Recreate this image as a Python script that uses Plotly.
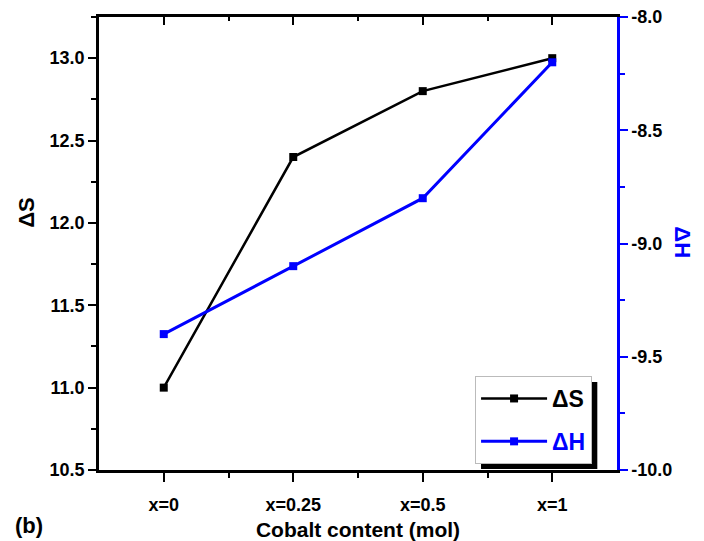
import plotly.graph_objects as go

categories = ["x=0", "x=0.25", "x=0.5", "x=1"]
delta_s = [11.0, 12.4, 12.8, 13.0]
delta_h = [-9.4, -9.1, -8.8, -8.2]
left_ticks = [10.5, 11.0, 11.5, 12.0, 12.5, 13.0]
right_ticks = [-10.0, -9.5, -9.0, -8.5, -8.0]

xpos = list(range(len(categories)))
BLUE = "#0000ff"
FONT = "Liberation Sans, Arial, sans-serif"

fig = go.Figure()
fig.add_trace(go.Scatter(
    x=xpos, y=delta_s, mode="lines+markers", name="ΔS",
    line=dict(color="black", width=2.5),
    marker=dict(symbol="square", size=8, color="black"),
    legendgroup="s", yaxis="y"))
fig.add_trace(go.Scatter(
    x=xpos, y=delta_h, mode="lines+markers",
    name=f"<span style='color:{BLUE}'>ΔH</span>",
    line=dict(color=BLUE, width=3),
    marker=dict(symbol="square", size=8, color=BLUE),
    legendgroup="h", yaxis="y2"))

# invisible trace for top axis ticks
fig.add_trace(go.Scatter(x=xpos, y=delta_s, xaxis="x2", yaxis="y",
                         mode="markers", marker=dict(opacity=0),
                         showlegend=False, hoverinfo="skip"))

tickfont = dict(family=FONT, size=18, color="black", weight="bold")

fig.update_layout(
    width=704, height=541,
    margin=dict(l=99, r=87, t=17, b=71),
    paper_bgcolor="white", plot_bgcolor="white",
    font=dict(family=FONT, weight="bold", color="black"),
    showlegend=True,
    xaxis=dict(
        range=[-0.5, 3.5], tickmode="array", tickvals=xpos, ticktext=categories,
        ticks="outside", ticklen=9, tickwidth=2, tickcolor="black",
        showline=True, linecolor="black", linewidth=2.5,
        showgrid=False, zeroline=False, tickfont=tickfont,
        ticklabelstandoff=8, automargin=False,
        minor=dict(tickmode="array", tickvals=[0.5, 1.5, 2.5], ticks="outside",
                   ticklen=5, tickwidth=2, tickcolor="black"),
        title=dict(text="Cobalt content (mol)",
                   font=dict(family=FONT, size=21, color="black", weight="bold"),
                   standoff=8),
    ),
    xaxis2=dict(
        overlaying="x", side="top", range=[-0.5, 3.5], tickmode="array",
        tickvals=xpos, ticktext=["" for _ in categories],
        ticks="inside", ticklen=8, tickwidth=2, tickcolor="black",
        showline=True, linecolor="black", linewidth=2.5,
        showgrid=False, zeroline=False, automargin=False,
        minor=dict(tickmode="array", tickvals=[0.5, 1.5, 2.5], ticks="inside",
                   ticklen=4, tickwidth=2, tickcolor="black"),
    ),
    yaxis=dict(
        range=[10.5, 13.25], tickmode="array", tickvals=left_ticks,
        ticktext=[f"{v:.1f}" for v in left_ticks],
        ticks="outside", ticklen=8, tickwidth=2, tickcolor="black",
        showline=True, linecolor="black", linewidth=2.5,
        showgrid=False, zeroline=False, tickfont=tickfont, automargin=False,
        minor=dict(dtick=0.25, tick0=10.5, ticks="outside", ticklen=5,
                   tickwidth=2, tickcolor="black"),
    ),
    yaxis2=dict(
        range=[-10.0, -8.0], overlaying="y", side="right", anchor="x",
        tickmode="array", tickvals=right_ticks,
        ticktext=[f"{v:.1f}" for v in right_ticks],
        ticks="outside", ticklen=8, tickwidth=2, tickcolor=BLUE,
        showline=True, linecolor=BLUE, linewidth=2.5,
        showgrid=False, zeroline=False, tickfont=tickfont, automargin=False,
        minor=dict(dtick=0.25, tick0=-10.0, ticks="outside", ticklen=5,
                   tickwidth=2, tickcolor=BLUE),
    ),
    legend=dict(
        x=0.726, y=0.2075, xanchor="left", yanchor="top",
        bgcolor="white", bordercolor="#bbbbbb", borderwidth=1,
        font=dict(family=FONT, size=23, color="black", weight="bold"),
        itemwidth=66, tracegroupgap=10,
    ),
    shapes=[dict(type="rect", xref="paper", yref="paper",
                 x0=0.7375, x1=0.962, y0=0.002, y1=0.194,
                 fillcolor="black", line=dict(width=0), layer="above")],
    annotations=[
        dict(text="ΔS", xref="paper", yref="paper", x=-0.139, y=0.57,
             xanchor="center", yanchor="middle",
             textangle=-90, showarrow=False,
             font=dict(family=FONT, size=22, color="black", weight="bold")),
        dict(text="ΔH", xref="paper", yref="paper", x=1.127, y=0.503,
             xanchor="center", yanchor="middle",
             textangle=90, showarrow=False,
             font=dict(family=FONT, size=22, color=BLUE, weight="bold")),
        dict(text="(b)", xref="paper", yref="paper", x=-0.135, y=-0.1545,
             xanchor="center", yanchor="bottom", showarrow=False,
             font=dict(family=FONT, size=22, color="black", weight="bold")),
    ],
)

fig.write_html("out.html")
